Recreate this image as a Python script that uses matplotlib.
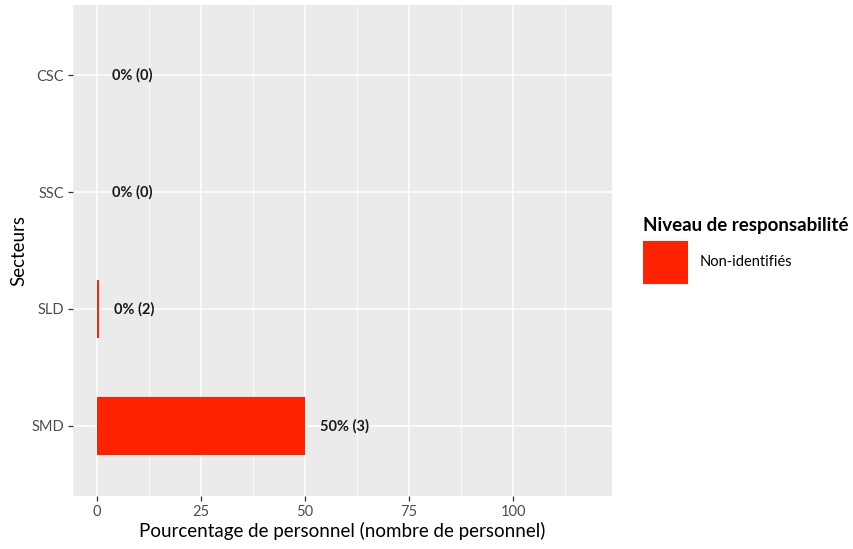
import matplotlib.pyplot as plt

# data (bottom to top)
secteurs = ['SMD', 'SLD', 'SSC', 'CSC']
pourcentages = [50, 0.5, 0, 0]
nombres = [3, 2, 0, 0]
etiquettes = ['50% (3)', '0% (2)', '0% (0)', '0% (0)']
niveau = 'Non-identifiés'

rouge = '#FF2200'
plt.rcParams['font.family'] = ['Lato', 'DejaVu Sans']

fig = plt.figure(figsize=(8.54, 5.49), dpi=100)
ax = fig.add_axes([73 / 854, 1 - 496 / 549, (612 - 73) / 854, (496 - 5) / 549])
ax.set_facecolor('#EBEBEB')

pos = range(len(secteurs))
ax.barh(pos, pourcentages, height=0.5, color=rouge, label=niveau, zorder=3)
for y, v, t in zip(pos, pourcentages, etiquettes):
    ax.text(v + 3.6, y, t, va='center', ha='left', fontsize=10.5,
            fontweight='bold', color='#1a1a1a', zorder=4)

ax.set_xlim(-5.8, 123.8)
ax.set_ylim(-0.6, 3.6)
ax.set_xticks([0, 25, 50, 75, 100])
ax.set_xticks([12.5, 37.5, 62.5, 87.5, 112.5], minor=True)
ax.set_yticks(list(pos))
ax.set_yticklabels(secteurs)
ax.grid(which='major', color='white', linewidth=1.1, zorder=0)
ax.grid(which='minor', axis='x', color='white', linewidth=0.55, zorder=0)
ax.tick_params(which='major', length=3.5, width=0.9, color='#333333',
               labelsize=10.5, labelcolor='#4d4d4d', pad=3)
ax.tick_params(which='minor', length=0)
for s in ax.spines.values():
    s.set_visible(False)

ax.set_xlabel('Pourcentage de personnel (nombre de personnel)', fontsize=13.5, labelpad=2)
ax.set_ylabel('Secteurs', fontsize=13.5, labelpad=3)

leg = ax.legend(loc='upper left', bbox_to_anchor=(630 / 854, 1 - 204 / 549),
                bbox_transform=fig.transFigure, frameon=False,
                title='Niveau de responsabilité', title_fontsize=13.5,
                fontsize=10.5, handlelength=3.1, handleheight=4.1,
                handletextpad=0.8, alignment='left')
leg.get_title().set_fontweight('bold')

fig.savefig('out.png', dpi=100)
